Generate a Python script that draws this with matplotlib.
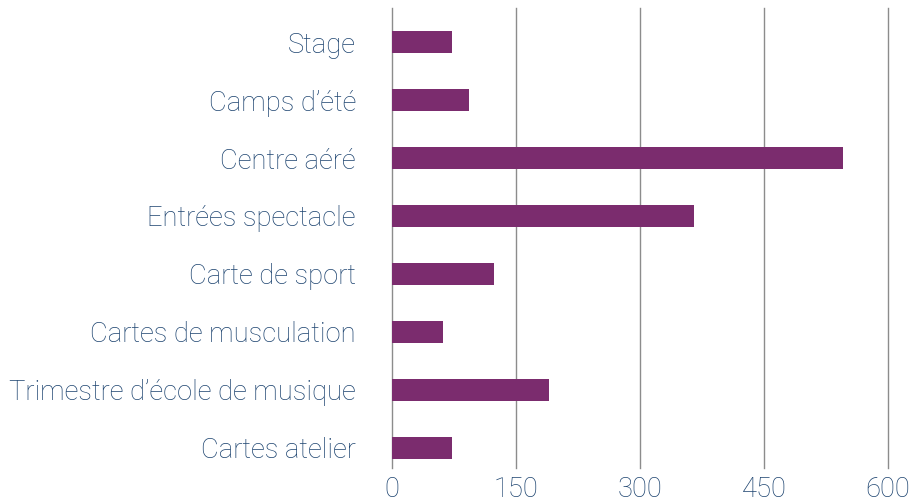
import matplotlib.pyplot as plt

categories = ["Stage", "Camps d\u2019été", "Centre aéré", "Entrées spectacle",
              "Carte de sport", "Cartes de musculation",
              "Trimestre d\u2019école de musique", "Cartes atelier"]
values = [72, 93, 546, 365, 123, 62, 190, 72]
x_ticks = [0, 150, 300, 450, 600]

BAR_COLOR = "#7b2c6e"
TEXT_COLOR = "#1d4470"
GRID_COLOR = "#8c8c8c"

plt.rcParams['font.family'] = ['Roboto', 'DejaVu Sans']
plt.rcParams['font.weight'] = 'light'

fig = plt.figure(figsize=(9.13, 5.04), dpi=100)
ax = fig.add_axes([392/913, 36/504, (888-392)/913, 460/504])

ypos = list(range(len(categories)))
ax.barh(ypos, values, height=0.38, color=BAR_COLOR, zorder=3)

ax.set_xlim(0, 600)
ax.set_ylim(len(categories) - 1 + 0.35, -0.59)
ax.set_xticks(x_ticks)
ax.set_xticklabels([str(t) for t in x_ticks])
ax.set_yticks(ypos)
ax.set_yticklabels(categories)

ax.grid(axis='x', color=GRID_COLOR, linewidth=1, zorder=0)
for line in ax.get_xgridlines():
    line.set_clip_on(False)
for s in ax.spines.values():
    s.set_visible(False)
ax.tick_params(axis='both', length=0, colors=TEXT_COLOR, labelsize=19.7)
ax.tick_params(axis='y', pad=26)
ax.tick_params(axis='x', pad=6)

fig.savefig("out.png", dpi=100)
